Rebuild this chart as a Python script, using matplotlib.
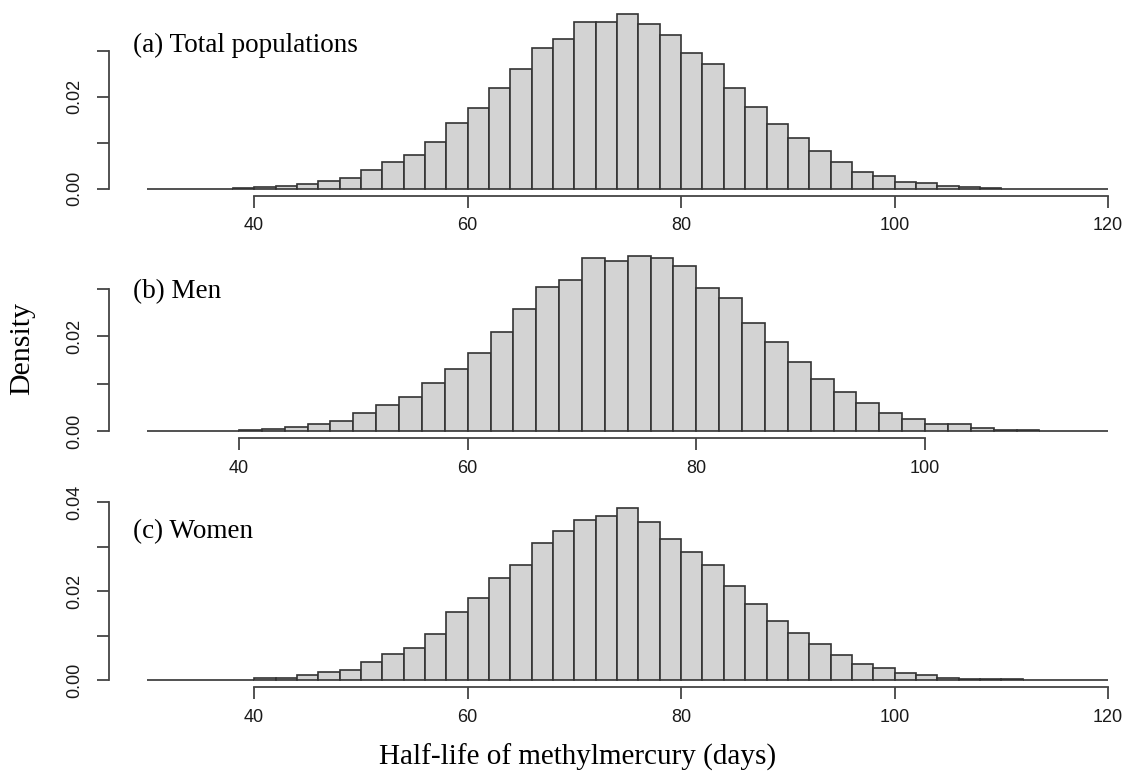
import matplotlib

matplotlib.use("Agg")
import matplotlib.pyplot as plt
import numpy as np


plt.rcParams["font.family"] = "Liberation Sans"
plt.rcParams["xtick.labelsize"] = 13
plt.rcParams["ytick.labelsize"] = 13


# densities per 2-day bin
total_breaks = np.arange(30, 122, 2)
total_density = [
    0, 0, 0, 0,
    0.0002, 0.0003, 0.0006, 0.0010, 0.0017, 0.0023, 0.0040, 0.0057, 0.0074,
    0.0102, 0.0144, 0.0175, 0.0220, 0.0260, 0.0307, 0.0327, 0.0363, 0.0363,
    0.0380, 0.0360, 0.0336, 0.0296, 0.0271, 0.0220, 0.0177, 0.0141, 0.0110,
    0.0081, 0.0059, 0.0036, 0.0028, 0.0014, 0.0012, 0.0006, 0.0003, 0.0002,
    0, 0, 0, 0, 0,
]

men_breaks = np.arange(32, 118, 2)
men_density = [
    0, 0, 0, 0,
    0.0002, 0.0005, 0.0008, 0.0015, 0.0022, 0.0038, 0.0056, 0.0072, 0.0102,
    0.0132, 0.0165, 0.0209, 0.0257, 0.0305, 0.0319, 0.0365, 0.0360, 0.0369,
    0.0365, 0.0349, 0.0302, 0.0281, 0.0228, 0.0189, 0.0146, 0.0110, 0.0083,
    0.0060, 0.0038, 0.0026, 0.0014, 0.0014, 0.0006, 0.0002, 0.0002,
    0, 0, 0,
]

women_breaks = np.arange(30, 122, 2)
women_density = [
    0,
    0.0001, 0.0001, 0.0001, 0.0001,
    0.0006, 0.0006, 0.0012, 0.0018, 0.0023, 0.0041, 0.0059, 0.0072, 0.0104,
    0.0153, 0.0185, 0.0229, 0.0260, 0.0309, 0.0335, 0.0361, 0.0368, 0.0388,
    0.0356, 0.0318, 0.0289, 0.0260, 0.0211, 0.0171, 0.0133, 0.0107, 0.0081,
    0.0056, 0.0036, 0.0028, 0.0016, 0.0011, 0.0006,
    0.0002, 0.0002, 0.0002,
    0, 0, 0, 0,
]

panel_labels = ["(a) Total populations", "(b) Men", "(c) Women"]
x_ticks = [[40, 60, 80, 100, 120], [40, 60, 80, 100], [40, 60, 80, 100, 120]]
y_ticks = [[0, 0.01, 0.02, 0.03], [0, 0.01, 0.02, 0.03], [0, 0.01, 0.02, 0.03, 0.04]]

panels = [
    (total_breaks, total_density),
    (men_breaks, men_density),
    (women_breaks, women_density),
]

W, H = 1126, 774
# plot-region top / bottom in pixels for each panel, and panel label height
regions = [(7.5, 195.5), (249.5, 438.0), (500.6, 687.2)]
label_y_px = [45, 292, 532]
left_px, full_right_px = 109, 1146.5

fig = plt.figure(figsize=(W / 100, H / 100), dpi=100)

edge = "#333333"
axis_color = "#444444"

for i, ((breaks, dens), (top, bottom)) in enumerate(zip(panels, regions)):
    dens = np.asarray(dens)
    ax = fig.add_axes([
        left_px / W,
        1 - bottom / H,
        (W - left_px) / W,
        (bottom - top) / H,
    ])

    ax.bar(
        breaks[:-1],
        dens,
        width=np.diff(breaks),
        align="edge",
        color="#D3D3D3",
        edgecolor=edge,
        linewidth=1.2,
    )

    # R-style 4% padding on both axes
    lo, hi = breaks[0], breaks[-1]
    usr_lo = lo - 0.04 * (hi - lo)
    usr_hi = hi + 0.04 * (hi - lo)
    frac = (W - left_px) / (full_right_px - left_px)
    ax.set_xlim(usr_lo, usr_lo + (usr_hi - usr_lo) * frac)
    ymax = dens.max()
    ax.set_ylim(-0.04 * ymax, 1.04 * ymax)

    for side in ["top", "right"]:
        ax.spines[side].set_visible(False)
    ax.spines["bottom"].set_bounds(x_ticks[i][0], x_ticks[i][-1])
    ax.spines["left"].set_bounds(y_ticks[i][0], y_ticks[i][-1])
    for side in ["bottom", "left"]:
        ax.spines[side].set_color(axis_color)
        ax.spines[side].set_linewidth(1.3)

    ax.set_xticks(x_ticks[i])
    ax.set_xticklabels([str(t) for t in x_ticks[i]])
    ax.set_yticks(y_ticks[i])
    ax.set_yticklabels(
        [f"{t:.2f}" if k % 2 == 0 else "" for k, t in enumerate(y_ticks[i])],
        rotation=90,
        va="center",
    )
    ax.tick_params(axis="both", direction="out", length=8.6, width=1.3,
                   color=axis_color, labelcolor="#1a1a1a")
    ax.tick_params(axis="x", pad=7)
    ax.tick_params(axis="y", pad=10)
    ax.patch.set_visible(False)

    fig.text(
        133 / W,
        1 - label_y_px[i] / H,
        panel_labels[i],
        family="Liberation Serif",
        fontsize=19.5,
        ha="left",
        va="center",
    )

fig.text(22 / W, 1 - 348 / H, "Density", family="Liberation Serif",
         fontsize=21.5, rotation=90, ha="center", va="center")
fig.text(578 / W, 1 - 757 / H, "Half-life of methylmercury (days)",
         family="Liberation Serif", fontsize=21, ha="center", va="center")

fig.savefig("out.png", dpi=100, facecolor="white")
plt.close(fig)
